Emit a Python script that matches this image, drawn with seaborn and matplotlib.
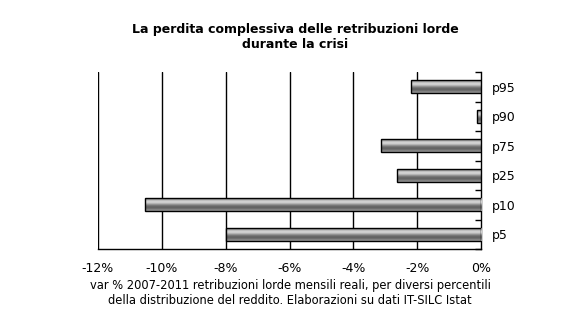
import numpy as np
import pandas as pd
import matplotlib
matplotlib.use("Agg")
import matplotlib.pyplot as plt
import seaborn as sns
from matplotlib.ticker import FuncFormatter

categories = ["p95", "p90", "p75", "p25", "p10", "p5"]
values = [-2.19, -0.12, -3.13, -2.63, -10.53, -8.0]
xticks = [-12, -10, -8, -6, -4, -2, 0]

title = "La perdita complessiva delle retribuzioni lorde\ndurante la crisi"
caption = ("var % 2007-2011 retribuzioni lorde mensili reali, per diversi percentili\n"
           "della distribuzione del reddito. Elaborazioni su dati IT-SILC Istat")

sns.set_style("white")
plt.rcParams['font.family'] = ['DejaVu Sans']
plt.rcParams['text.color'] = 'black'
plt.rcParams['xtick.color'] = 'black'
plt.rcParams['ytick.color'] = 'black'

df = pd.DataFrame({"cat": categories, "val": values})

fig = plt.figure(figsize=(5.64, 3.21), dpi=100)
ax = fig.add_axes([98/564, (321-249)/321, (481-98)/564, (249-72)/321])

sns.barplot(data=df, x="val", y="cat", order=categories, color="#999999",
            width=0.45, edgecolor="black", linewidth=1.0, ax=ax, zorder=3)

# cylinder-like gradient on each bar
grad = np.array([0.38, 0.5, 0.65, 0.78, 0.84, 0.78, 0.64, 0.5, 0.42, 0.38, 0.42, 0.5, 0.58])
grad = grad.reshape(-1, 1)
for p in ax.patches:
    x0, y0 = p.get_x(), p.get_y()
    w, h = p.get_width(), p.get_height()
    im = ax.imshow(grad, cmap="gray", vmin=0, vmax=1, aspect="auto",
                   extent=[x0, x0 + w, y0 + h, y0], zorder=3.5, interpolation="bilinear")
    im.set_clip_path(p)
    p.set_facecolor("none")
    p.set_zorder(4)

ax.set_xlim(-12, 0)
ax.set_ylim(len(categories) - 0.5, -0.5)
ax.set_xticks(xticks)
ax.xaxis.set_major_formatter(FuncFormatter(lambda v, _: f"{int(round(v))}%"))
for xv in xticks[:-1]:
    ax.axvline(xv, color="black", linewidth=1.0, zorder=1)

ax.yaxis.tick_right()
ax.yaxis.set_label_position("right")
ax.set_yticks(range(len(categories)))
ax.set_yticklabels(categories)
ax.set_yticks(np.arange(-0.5, len(categories), 1.0), minor=True)
ax.tick_params(axis="y", which="major", length=0, pad=8, labelsize=9)
ax.tick_params(axis="y", which="minor", length=4, direction="in", width=1, color="black")
ax.tick_params(axis="x", which="major", length=5, direction="out", width=1,
               color="black", labelsize=9, pad=4)

ax.set_xlabel("")
ax.set_ylabel("")
for s in ["top", "left"]:
    ax.spines[s].set_visible(False)
for s in ["bottom", "right"]:
    ax.spines[s].set_visible(True)
    ax.spines[s].set_color("black")
    ax.spines[s].set_linewidth(1.0)

fig.text(295/564, 1 - 37/321, title, ha="center", va="center",
         fontsize=9, fontweight="bold", linespacing=1.1)
fig.text(290/564, 1 - 293/321, caption, ha="center", va="center",
         fontsize=8.3, linespacing=1.25)

fig.savefig("out.png", dpi=100, facecolor="white")
